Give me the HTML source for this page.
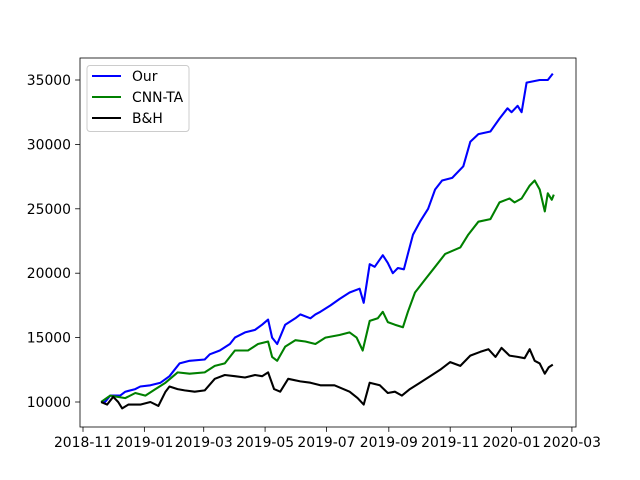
<!DOCTYPE html>
<html><head><meta charset="utf-8"><style>
body{margin:0;background:#fff;}
svg{display:block;font-family:"DejaVu Sans","Liberation Sans",sans-serif;}
</style></head><body>
<svg id="chart" width="640" height="480" viewBox="0 0 640 480"></svg>
<script>
// days since 2018-11-01
const xTickLabels = ["2018-11","2019-01","2019-03","2019-05","2019-07","2019-09","2019-11","2020-01","2020-03"];
const xTickDays = [0,61,120,181,242,304,365,426,486];
const yTicks = [10000,15000,20000,25000,30000,35000];
const seriesNames = ["Our","CNN-TA","B&H"];
const seriesColors = ["#0000ff","#008000","#000000"];

const ourDays = [18,22,27,37,42,52,57,67,77,86,91,96,106,121,126,136,146,151,161,171,178,184,188,193,201,211,216,226,231,236,246,255,265,275,279,285,290,298,303,308,313,319,323,328,335,343,350,357,367,378,385,393,405,414,422,426,432,436,441,454,462,467];
const ourValues = [10000,10000,10500,10500,10800,11000,11200,11300,11500,12000,12500,13000,13200,13300,13700,14000,14500,15000,15400,15600,16000,16400,15000,14500,16000,16500,16800,16500,16800,17000,17500,18000,18500,18800,17700,20700,20500,21400,20800,20000,20400,20300,21500,23000,24000,25000,26500,27200,27400,28300,30200,30800,31000,32000,32800,32500,33000,32500,34800,35000,35000,35500];

const cnnDays = [18,27,42,52,62,72,82,94,106,121,131,141,151,164,174,184,188,193,201,211,221,231,241,255,265,272,278,285,293,298,303,310,318,323,330,340,350,360,375,383,393,405,414,424,429,436,444,449,454,459,462,466,468];
const cnnValues = [10000,10500,10300,10700,10500,11000,11500,12300,12200,12300,12800,13000,14000,14000,14500,14700,13500,13200,14300,14800,14700,14500,15000,15200,15400,15000,14000,16300,16500,17000,16200,16000,15800,17000,18500,19500,20500,21500,22000,23000,24000,24200,25500,25800,25500,25800,26800,27200,26500,24800,26200,25700,26100];

const bhDays = [18,24,30,35,39,45,57,67,75,82,86,94,101,111,121,131,141,151,161,171,178,184,190,196,204,216,226,236,250,265,273,279,285,295,303,310,317,325,335,345,355,365,375,385,395,403,410,416,424,432,439,444,449,454,459,463,467];
const bhValues = [10000,9800,10400,10000,9500,9800,9800,10000,9700,10800,11200,11000,10900,10800,10900,11800,12100,12000,11900,12100,12000,12300,11000,10800,11800,11600,11500,11300,11300,10800,10300,9800,11500,11300,10700,10800,10500,11000,11500,12000,12500,13100,12800,13600,13900,14100,13500,14200,13600,13500,13400,14100,13200,13000,12200,12700,12900];

const NS="http://www.w3.org/2000/svg";
const svg=document.getElementById('chart');
const L=80,R=576,T=58,B=427;
const FS=13.9;
const xs=d=>83+d*1.006;
const ys=v=>402-(v-10000)/5000*64.4;
function mk(tag,attrs,parent){const e=document.createElementNS(NS,tag);for(const k in attrs)e.setAttribute(k,attrs[k]);(parent||svg).appendChild(e);return e;}

const allDays=[ourDays,cnnDays,bhDays], allVals=[ourValues,cnnValues,bhValues];
for(let s=0;s<3;s++){
  const pts=allDays[s].map((d,i)=>xs(d).toFixed(1)+","+ys(allVals[s][i]).toFixed(1)).join(" ");
  const pl=mk('polyline',{points:pts,fill:'none',stroke:seriesColors[s],'stroke-width':2.08,'stroke-linejoin':'round'});
  
  
}
const frame=mk('rect',{x:L,y:T,width:R-L,height:B-T,fill:'none',stroke:'#000','stroke-width':0.8});



xTickDays.forEach((d,i)=>{
  const x=xs(d);
  const t=mk('line',{x1:x,x2:x,y1:B,y2:B+4.9,stroke:'#000','stroke-width':0.8});
  
  
  const tx=mk('text',{x:x,y:B+20,'text-anchor':'middle','font-size':FS});
  tx.textContent=xTickLabels[i];
  
  
});
yTicks.forEach(v=>{
  const y=ys(v);
  const t=mk('line',{x1:L-4.9,x2:L,y1:y,y2:y,stroke:'#000','stroke-width':0.8});
  
  
  const tx=mk('text',{x:L-9,y:y+5,'text-anchor':'end','font-size':FS});
  tx.textContent=String(v);
  
  
});

const lg=mk('g',{});


mk('rect',{x:87,y:65.5,width:102,height:66,rx:3,fill:'#fff','fill-opacity':0.8,stroke:'#ccc','stroke-width':1},lg);
seriesNames.forEach((n,i)=>{
  const y=76+i*21;
  const e=mk('g',{},lg);
  
  
  mk('line',{x1:92,x2:121,y1:y,y2:y,stroke:seriesColors[i],'stroke-width':2.08},e);
  const tx=mk('text',{x:132,y:y+5,'font-size':FS},e);
  tx.textContent=n;
});
</script>
</body></html>
